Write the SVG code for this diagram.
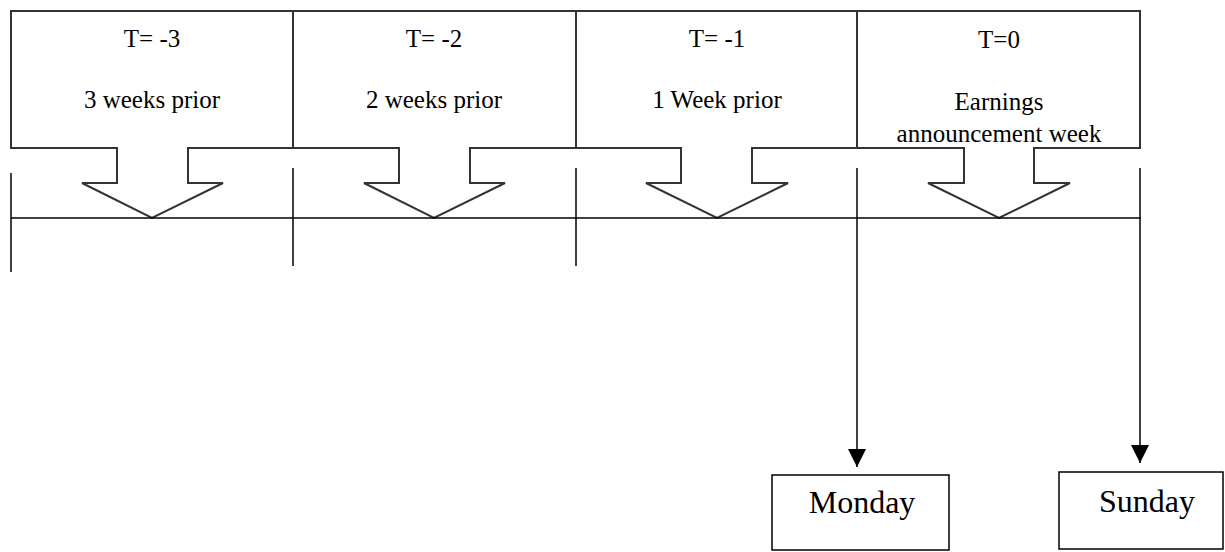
<svg xmlns="http://www.w3.org/2000/svg" width="1225" height="552" viewBox="0 0 1225 552">
<style>
.box{fill:#fff;stroke:#333;stroke-width:2;stroke-linejoin:miter}
.line{stroke:#000;stroke-width:1.5;fill:none}
.t{font-family:"Liberation Serif","Times New Roman",serif;font-size:25px;fill:#000;text-anchor:middle}
.d{font-family:"Liberation Serif","Times New Roman",serif;font-size:32px;fill:#000;text-anchor:middle}
</style>
<defs>
<marker id="ah" markerUnits="userSpaceOnUse" markerWidth="18" markerHeight="18" viewBox="0 0 16 16" refX="16" refY="8" orient="auto">
<path d="M0,0 L16,8 L0,16 Z" fill="#000"/>
</marker>
</defs>
<rect width="1225" height="552" fill="#fff"/>
<g id="node-t-3">
<path class="box" d="M11,11 H293 V148 H188 V183 H223 L152,218 L82,183 H117 V148 H11 Z"/>
<text class="t" x="152" y="47">T= -3</text>
<text class="t" x="152" y="108">3 weeks prior</text>
</g>
<g id="node-t-2">
<path class="box" d="M293,11 H576 V148 H470 V183 H505 L434,218 L364,183 H399 V148 H293 Z"/>
<text class="t" x="434" y="47">T= -2</text>
<text class="t" x="434" y="108">2 weeks prior</text>
</g>
<g id="node-t-1">
<path class="box" d="M576,11 H857 V148 H752 V183 H788 L717,218 L646,183 H681 V148 H576 Z"/>
<text class="t" x="717" y="47">T= -1</text>
<text class="t" x="717" y="108">1 Week prior</text>
</g>
<g id="node-t0">
<path class="box" d="M857,11 H1140 V148 H1034 V183 H1070 L999,218 L928,183 H964 V148 H857 Z"/>
<text class="t" x="999" y="48">T=0</text>
<text class="t" x="999" y="110">Earnings</text>
<text class="t" x="999" y="142">announcement week</text>
</g>
<g id="node-monday">
<rect class="box" x="772" y="475" width="177" height="75" style="stroke:#000;stroke-width:1.5"/>
<text class="d" x="862" y="513">Monday</text>
</g>
<g id="node-sunday">
<rect class="box" x="1059" y="472" width="164" height="77" style="stroke:#000;stroke-width:1.5"/>
<text class="d" x="1147" y="512">Sunday</text>
</g>
<g id="connectors">
<line class="line" x1="11" y1="218" x2="1141" y2="218"/>
<line class="line" x1="11" y1="173" x2="11" y2="272"/>
<line class="line" x1="293" y1="168" x2="293" y2="266"/>
<line class="line" x1="576" y1="168" x2="576" y2="266"/>
<line class="line" x1="857" y1="168" x2="857" y2="467" marker-end="url(#ah)"/>
<line class="line" x1="1140" y1="168" x2="1140" y2="463" marker-end="url(#ah)"/>
</g>
</svg>
